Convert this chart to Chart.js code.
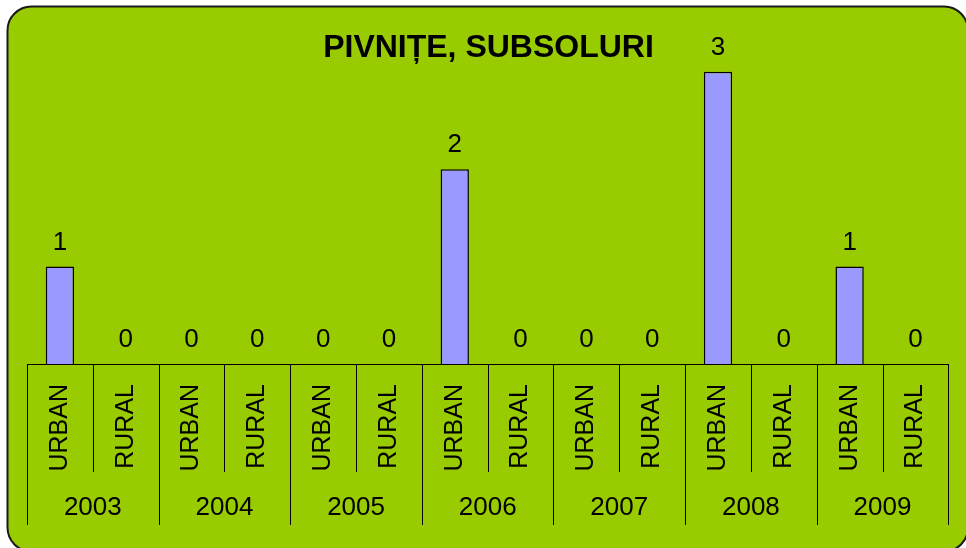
<!DOCTYPE html>
<html>
<head>
<meta charset="utf-8">
<script src="https://cdn.jsdelivr.net/npm/chart.js@4/dist/chart.umd.min.js"></script>
<style>
html,body{margin:0;padding:0;background:#fff;}
#wrap{width:966px;height:548px;position:relative;}
</style>
</head>
<body>
<div id="wrap"><canvas id="c" width="966" height="548"></canvas></div>
<script>
const chartTitle = "PIVNIȚE, SUBSOLURI";
const years = ["2003","2004","2005","2006","2007","2008","2009"];
const areas = ["URBAN","RURAL"];
const categories = ["URBAN","RURAL","URBAN","RURAL","URBAN","RURAL","URBAN","RURAL","URBAN","RURAL","URBAN","RURAL","URBAN","RURAL"];
const values = [1,0,0,0,0,0,2,0,0,0,3,0,1,0];

const FONT = "'Liberation Sans', Arial, sans-serif";

const bgPlugin = {
  id: 'bg',
  beforeDraw(chart) {
    const ctx = chart.ctx;
    ctx.save();
    const x = 7.5, y = 6.5, w = 960.5, h = 545, r = 24;
    ctx.beginPath();
    ctx.moveTo(x + r, y);
    ctx.lineTo(x + w - r, y);
    ctx.arcTo(x + w, y, x + w, y + r, r);
    ctx.lineTo(x + w, y + h - r);
    ctx.arcTo(x + w, y + h, x + w - r, y + h, r);
    ctx.lineTo(x + r, y + h);
    ctx.arcTo(x, y + h, x, y + h - r, r);
    ctx.lineTo(x, y + r);
    ctx.arcTo(x, y, x + r, y, r);
    ctx.closePath();
    ctx.fillStyle = '#99CC00';
    ctx.fill();
    ctx.lineWidth = 2;
    ctx.strokeStyle = '#1a1a1a';
    ctx.stroke();
    ctx.restore();
  },
  afterDraw(chart) {
    const ctx = chart.ctx;
    const xs = chart.scales.x;
    const area = chart.chartArea;
    ctx.save();
    // title
    ctx.fillStyle = '#000';
    ctx.font = "bold 32px " + FONT;
    ctx.textAlign = 'center';
    ctx.textBaseline = 'alphabetic';
    ctx.fillText(chartTitle, 488.5, 57);
    // separators
    ctx.strokeStyle = '#000';
    ctx.lineWidth = 1;
    const half = (xs.getPixelForValue(1) - xs.getPixelForValue(0)) / 2;
    for (let i = 0; i <= categories.length; i++) {
      const px = Math.round((i < categories.length ? xs.getPixelForValue(i) - half : xs.getPixelForValue(i - 1) + half)) + 0.5;
      const bottom = (i % 2 === 0) ? 525 : 472;
      ctx.beginPath();
      ctx.moveTo(px, area.bottom);
      ctx.lineTo(px, bottom);
      ctx.stroke();
    }
    // year labels
    ctx.font = "26px " + FONT;
    ctx.textAlign = 'center';
    ctx.textBaseline = 'middle';
    years.forEach((yr, i) => {
      const cx = (xs.getPixelForValue(2 * i) + xs.getPixelForValue(2 * i + 1)) / 2;
      ctx.fillText(yr, cx, 508);
    });
    // value labels
    const meta = chart.getDatasetMeta(0);
    ctx.textBaseline = 'alphabetic';
    meta.data.forEach((bar, i) => {
      ctx.fillText(String(values[i]), bar.x, bar.y - 17);
    });
    ctx.restore();
  }
};

new Chart(document.getElementById('c'), {
  type: 'bar',
  data: {
    labels: categories,
    datasets: [{
      data: values,
      backgroundColor: '#9999FF',
      borderColor: '#000',
      borderWidth: 1.5,
      categoryPercentage: 1,
      barPercentage: 0.43
    }]
  },
  options: {
    responsive: false,
    animation: false,
    devicePixelRatio: 1,
    layout: { padding: { left: 27, right: 16, top: 23, bottom: 0 } },
    plugins: { legend: { display: false }, tooltip: { enabled: false }, title: { display: false } },
    scales: {
      y: { display: false, min: 0, max: 3.5 },
      x: {
        grid: { display: false, drawTicks: false },
        border: { display: true, color: '#000', width: 1 },
        ticks: {
          color: '#000',
          font: { family: FONT, size: 25 },
          minRotation: 90,
          maxRotation: 90,
          padding: 20,
          autoSkip: false
        },
        afterFit(scale) { scale.height = 184; }
      }
    }
  },
  plugins: [bgPlugin]
});
</script>
</body>
</html>
